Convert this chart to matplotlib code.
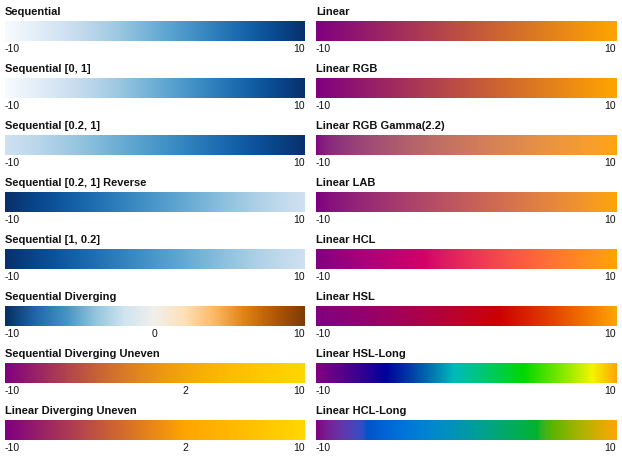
import colorsys
import numpy as np
import matplotlib
matplotlib.use("Agg")
import matplotlib.pyplot as plt
from matplotlib import colors as mcolors

plt.rcParams["font.family"] = ["Liberation Sans", "DejaVu Sans"]

# ── Data ───────────────────────────────────────────────────────────────────────
left_titles = ["Sequential", "Sequential [0, 1]", "Sequential [0.2, 1]",
               "Sequential [0.2, 1] Reverse", "Sequential [1, 0.2]",
               "Sequential Diverging", "Sequential Diverging Uneven",
               "Linear Diverging Uneven"]
right_titles = ["Linear", "Linear RGB", "Linear RGB Gamma(2.2)", "Linear LAB",
                "Linear HCL", "Linear HSL", "Linear HSL-Long", "Linear HCL-Long"]

domain = [-10, 10]
diverging_domain = [-10, 0, 10]
uneven_domain = [-10, 2, 10]

# Blues scheme and the interpolator ranges used by the first five rows
blues_scheme = ["#f7fbff", "#deebf7", "#c6dbef", "#9ecae1", "#6baed6",
                "#4292c6", "#2171b5", "#08519c", "#08306b"]
blues_ranges = [(0, 1), (0, 1), (0.2, 1), (1, 0.2), (1, 0.2)]
diverging_stops = ["#053061", "#2166ac", "#4393c3", "#92c5de", "#d1e5f0", "#f2f0eb",
                   "#fee0b6", "#fdb863", "#e08214", "#b35806", "#7f3b08"]
uneven_colors = ["purple", "orange", "gold"]
start_color, end_color = "purple", "orange"
gamma = 2.2
N = 300

# ── Colour space helpers (d3-color conventions) ───────────────────────────────
Xn, Yn, Zn = 0.96422, 1.0, 0.82521
t0, t1 = 4 / 29, 6 / 29
t2, t3 = 3 * t1 * t1, t1 ** 3


def rgb2lab(c):
    r, g, b = [x / 12.92 if x <= 0.04045 else ((x + 0.055) / 1.055) ** 2.4 for x in c]
    f = lambda t: t ** (1 / 3) if t > t3 else t / t2 + t0
    y = f((0.2225045 * r + 0.7168786 * g + 0.0606169 * b) / Yn)
    x = f((0.4360747 * r + 0.3850649 * g + 0.1430804 * b) / Xn)
    z = f((0.0139322 * r + 0.0971045 * g + 0.7141733 * b) / Zn)
    return np.array([116 * y - 16, 500 * (x - y), 200 * (y - z)])


def lab2rgb(L, a, b):
    y = (L + 16) / 116
    x, z = y + a / 500, y - b / 200
    f = lambda t: t ** 3 if t > t1 else t2 * (t - t0)
    x, y, z = Xn * f(x), Yn * f(y), Zn * f(z)
    g = lambda v: 12.92 * v if v <= 0.0031308 else 1.055 * max(v, 0) ** (1 / 2.4) - 0.055
    out = [g(3.1338561 * x - 1.6168667 * y - 0.4906146 * z),
           g(-0.9787684 * x + 1.9161415 * y + 0.0334540 * z),
           g(0.0719453 * x - 0.2289914 * y + 1.4052427 * z)]
    return np.clip(out, 0, 1)


def lab2hcl(lab):
    h = np.degrees(np.arctan2(lab[2], lab[1])) % 360
    return h, np.hypot(lab[1], lab[2]), lab[0]


def hue_delta(a, b, long=False):
    d = b - a
    if not long and abs(d) > 180:
        d -= 360 * round(d / 360)
    return d


def basis_ramp(cols, ts):
    # uniform B-spline through the colours, like d3.interpolateRgbBasis
    v = np.array([mcolors.to_rgb(c) for c in cols])
    n = len(v) - 1
    out = []
    for t in ts:
        i = min(int(t * n), n - 1)
        v1, v2 = v[i], v[i + 1]
        v0 = v[i - 1] if i > 0 else 2 * v1 - v2
        v3 = v[i + 2] if i < n - 1 else 2 * v2 - v1
        s = (t - i / n) * n
        s2, s3 = s * s, s * s * s
        c = ((1 - 3 * s + 3 * s2 - s3) * v0 + (4 - 6 * s2 + 3 * s3) * v1
             + (1 + 3 * s + 3 * s2 - 3 * s3) * v2 + s3 * v3) / 6
        out.append(np.clip(c, 0, 1))
    return mcolors.ListedColormap(out)


def ramp(kind):
    a = np.array(mcolors.to_rgb(start_color))
    b = np.array(mcolors.to_rgb(end_color))
    out = []
    for t in np.linspace(0, 1, N):
        if kind == "rgb":
            c = a + (b - a) * t
        elif kind == "gamma":
            c = (a ** gamma + (b ** gamma - a ** gamma) * t) ** (1 / gamma)
        elif kind == "lab":
            la, lb = rgb2lab(a), rgb2lab(b)
            c = lab2rgb(*(la + (lb - la) * t))
        elif kind in ("hcl", "hcl-long"):
            ha, ca, La = lab2hcl(rgb2lab(a))
            hb, cb, Lb = lab2hcl(rgb2lab(b))
            h = ha + hue_delta(ha, hb, kind == "hcl-long") * t
            cc = ca + (cb - ca) * t
            L = La + (Lb - La) * t
            c = lab2rgb(L, cc * np.cos(np.radians(h)), cc * np.sin(np.radians(h)))
        else:  # hsl / hsl-long
            ha, la_, sa = colorsys.rgb_to_hls(*a)
            hb, lb_, sb = colorsys.rgb_to_hls(*b)
            ha, hb = ha * 360, hb * 360
            h = (ha + hue_delta(ha, hb, kind == "hsl-long") * t) % 360
            c = colorsys.hls_to_rgb(h / 360, la_ + (lb_ - la_) * t, sa + (sb - sa) * t)
        out.append(np.clip(c, 0, 1))
    return mcolors.ListedColormap(out)


left_cmaps = [basis_ramp(blues_scheme, np.linspace(lo, hi, N)) for lo, hi in blues_ranges]
left_cmaps.append(mcolors.LinearSegmentedColormap.from_list("div", diverging_stops))
left_cmaps.append(basis_ramp(uneven_colors, np.linspace(0, 1, N)))
mid = (uneven_domain[1] - uneven_domain[0]) / (uneven_domain[2] - uneven_domain[0])
left_cmaps.append(mcolors.LinearSegmentedColormap.from_list(
    "lindiv", list(zip([0, mid, 1], uneven_colors))))

right_cmaps = [ramp(k) for k in ["rgb", "rgb", "gamma", "lab", "hcl", "hsl",
                                 "hsl-long", "hcl-long"]]

left_ticks = [domain] * 5 + [diverging_domain, uneven_domain, uneven_domain]
right_ticks = [domain] * 8

# ── Layout (pixels) ───────────────────────────────────────────────────────────
W, H = 622, 458
fig = plt.figure(figsize=(W / 100, H / 100), dpi=100)
gradient = np.linspace(domain[0], domain[1], 600)[None, :]


def legend(x0, top, title, cmap, ticks):
    ax = fig.add_axes([x0 / W, 1 - (top + 20) / H, 300 / W, 20 / H])
    ax.imshow(gradient, cmap=cmap, aspect="auto",
              extent=[domain[0], domain[1], 0, 1], interpolation="bilinear")
    ax.set_xlim(domain)
    ax.set_ylim(0, 1)
    for s in ax.spines.values():
        s.set_visible(False)
    ax.set_yticks([])
    ax.set_xticks(ticks)
    ax.set_xticklabels([str(t) for t in ticks])
    ax.tick_params(axis="x", length=0, pad=2.0, labelsize=7.5, colors="#111111")
    labels = ax.get_xticklabels()
    labels[0].set_ha("left")
    labels[-1].set_ha("right")
    fig.text(x0 / W, 1 - (top - 6) / H, title, fontsize=8, fontweight="bold",
             va="baseline", ha="left", color="#111111")


for i in range(8):
    top = 21 + 57 * i
    legend(5, top, left_titles[i], left_cmaps[i], left_ticks[i])
    legend(316, top, right_titles[i], right_cmaps[i], right_ticks[i])

plt.savefig("out.png", dpi=100)
